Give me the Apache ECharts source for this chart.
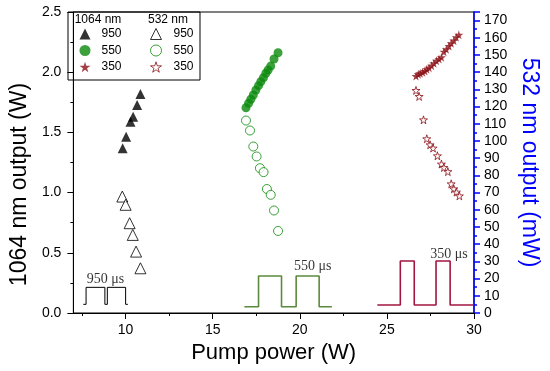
<!DOCTYPE html>
<html>
<head>
<meta charset="utf-8">
<script src="https://cdn.jsdelivr.net/npm/echarts@6/dist/echarts.min.js"></script>
<style>
html,body{margin:0;padding:0;background:#fff;}
#chart{width:550px;height:371px;}
</style>
</head>
<body>
<div id="chart"></div>
<script>
// ---- data ----
const xTickValues = [10, 15, 20, 25, 30];
const xMinorValues = [7.5, 12.5, 17.5, 22.5, 27.5];

// 950 us pulse width
const pump1064_950 = [9.83, 10.03, 10.28, 10.43, 10.66, 10.85];
const out1064_950  = [1.368, 1.464, 1.589, 1.630, 1.728, 1.819];
const pump532_950  = [9.81, 10.00, 10.23, 10.41, 10.60, 10.85];
const out532_950   = [67.7, 62.9, 52.2, 45.4, 35.7, 26.0];

// 550 us pulse width
const pump1064_550 = [16.91, 17.06, 17.19, 17.33, 17.48, 17.63, 17.76, 17.91, 18.05, 18.18, 18.33, 18.52, 18.75];
const out1064_550  = [1.705, 1.742, 1.775, 1.811, 1.852, 1.888, 1.921, 1.954, 1.991, 2.018, 2.051, 2.110, 2.162];
const pump532_550  = [16.91, 17.14, 17.33, 17.52, 17.71, 17.92, 18.11, 18.33, 18.52, 18.75];
const out532_550   = [111.9, 106.1, 96.8, 91.0, 84.2, 81.9, 72.1, 68.7, 59.6, 47.7];

// 350 us pulse width
const pump1064_350 = [26.67, 26.80, 26.91, 27.05, 27.18, 27.29, 27.42, 27.56, 27.70, 27.84, 27.99, 28.13, 28.27, 28.41, 28.56, 28.69, 28.84, 28.98, 29.13];
const out1064_350  = [1.968, 1.983, 1.991, 1.999, 2.010, 2.024, 2.037, 2.054, 2.074, 2.095, 2.110, 2.124, 2.170, 2.190, 2.218, 2.240, 2.262, 2.290, 2.311];
const pump532_350  = [26.67, 26.85, 27.10, 27.29, 27.48, 27.65, 27.90, 28.13, 28.27, 28.50, 28.69, 28.84, 28.99, 29.16];
const out532_350   = [129.4, 125.9, 112.3, 101.3, 97.8, 95.9, 91.4, 86.6, 84.6, 82.2, 75.1, 72.2, 70.3, 68.1];

// pulse sketches (pump-power x, left-axis y): edges and [low, high] levels
const pulse950Edges = [7.57, 7.73, 8.81, 8.95, 10.0, 10.13];
const pulse950Levels = [0.072, 0.213];
const pulse550Edges = [16.82, 17.63, 18.95, 19.79, 21.11, 21.84];
const pulse550Levels = [0.052, 0.307];
const pulse350Edges = [24.45, 25.77, 26.57, 27.82, 28.63, 29.98];
const pulse350Levels = [0.066, 0.432];

const pulseLabels = ['950 μs', '550 μs', '350 μs'];
const pulseLabelX = [8.85, 20.74, 28.56];
const pulseLabelY = [0.28, 0.385, 0.49];

const legendHeaders = ['1064 nm', '532 nm'];
const legendWidths = ['950', '550', '350'];

// ---- helpers ----
function zip(xs, ys) { return xs.map((x, i) => [x, ys[i]]); }
function pulsePath(edges, levels) {
  const lo = levels[0], hi = levels[1];
  const pts = [[edges[0], lo]];
  for (let i = 1; i < edges.length - 1; i++) {
    const up = (i % 2 === 1);
    pts.push([edges[i], up ? lo : hi]);
    pts.push([edges[i], up ? hi : lo]);
  }
  pts.push([edges[edges.length - 1], lo]);
  return pts;
}

const STAR = 'path://M50,0 L61,35 L98,35 L68,57 L79,91 L50,70 L21,91 L32,57 L2,35 L39,35 Z';
const GREEN = '#0b8a0b';
const RED = '#8b1016';
const FONT = 'Liberation Sans, Arial, sans-serif';

const chart = echarts.init(document.getElementById('chart'), null, {renderer: 'canvas'});

function pulseSeries(edges, levels, color, width) {
  return {
    type: 'line', xAxisIndex: 0, yAxisIndex: 0, data: pulsePath(edges, levels),
    showSymbol: false, symbol: 'none', silent: true, animation: false,
    lineStyle: {color: color, width: width}, z: 1
  };
}

function legendOpt(left, pad, names) {
  return {
    left: left, top: 28, orient: 'vertical', itemWidth: 11, itemHeight: 11, itemGap: 4.5,
    selectedMode: false, padding: 0,
    itemStyle: {borderWidth: 1},
    textStyle: {fontFamily: FONT, fontSize: 12, color: '#000', lineHeight: 11, padding: [0, 0, 0, pad]},
    formatter: n => n.split('-')[1],
    data: names
  };
}

const option = {
  animation: false,
  backgroundColor: '#fff',
  grid: {left: 68, right: 76, top: 12, bottom: 58, show: true, borderColor: '#000', borderWidth: 1, backgroundColor: 'transparent'},
  xAxis: [
    {
      type: 'value', min: 7, max: 30, position: 'bottom',
      name: 'Pump power (W)', nameLocation: 'middle', nameGap: 29,
      nameTextStyle: {fontFamily: FONT, fontSize: 22, color: '#000'},
      axisLine: {show: true, lineStyle: {color: '#000', width: 1}},
      axisTick: {show: true, inside: false, length: 6, customValues: xTickValues, lineStyle: {color: '#000'}},
      axisLabel: {show: true, customValues: xTickValues, margin: 10, fontFamily: FONT, fontSize: 14, color: '#000'},
      splitLine: {show: false}
    },
    {
      type: 'value', min: 7, max: 30, position: 'bottom',
      axisLine: {show: false},
      axisTick: {show: true, inside: false, length: 3, customValues: xMinorValues, lineStyle: {color: '#000'}},
      axisLabel: {show: false},
      splitLine: {show: false}
    }
  ],
  yAxis: [
    {
      type: 'value', min: 0, max: 2.5, interval: 0.5, position: 'left',
      name: '1064 nm output (W)', nameLocation: 'middle', nameGap: 39, nameRotate: 90,
      nameTextStyle: {fontFamily: FONT, fontSize: 23, color: '#000', padding: [0, 44, 0, 0]},
      axisLine: {show: true, lineStyle: {color: '#000', width: 1}},
      axisTick: {show: true, inside: false, length: 6, lineStyle: {color: '#000'}},
      minorTick: {show: true, splitNumber: 2, length: 3, lineStyle: {color: '#000'}},
      axisLabel: {margin: 12, fontFamily: FONT, fontSize: 14, color: '#000', formatter: v => v.toFixed(1)},
      splitLine: {show: false}
    },
    {
      type: 'value', min: 0, max: 175, interval: 10, position: 'right',
      name: '532 nm output (mW)', nameLocation: 'middle', nameGap: 42, nameRotate: -90,
      nameTextStyle: {fontFamily: FONT, fontSize: 23, color: '#0000ff'},
      axisLine: {show: true, lineStyle: {color: '#0000ff', width: 1.5}},
      axisTick: {show: true, inside: false, length: 6, lineStyle: {color: '#0000ff', width: 1.5}},
      minorTick: {show: true, splitNumber: 2, length: 3, lineStyle: {color: '#0000ff', width: 1.5}},
      axisLabel: {margin: 10, fontFamily: FONT, fontSize: 14, color: '#000', showMaxLabel: false,
        formatter: v => (v % 10 === 0 ? String(v) : '')},
      splitLine: {show: false}
    }
  ],
  legend: [
    legendOpt(79.5, 6, ['1064-950', '1064-550', '1064-350']),
    legendOpt(150, 7, ['532-950', '532-550', '532-350'])
  ],
  graphic: [
    {type: 'rect', shape: {x: 68, y: 12, width: 132, height: 68}, style: {fill: 'none', stroke: '#000', lineWidth: 1}, z: 10, silent: true},
    {type: 'text', x: 98, y: 20, style: {text: legendHeaders[0], font: '12px ' + FONT, fill: '#000', align: 'center', verticalAlign: 'middle'}, z: 10},
    {type: 'text', x: 168, y: 20, style: {text: legendHeaders[1], font: '12px ' + FONT, fill: '#000', align: 'center', verticalAlign: 'middle'}, z: 10}
  ],
  series: [
    pulseSeries(pulse950Edges, pulse950Levels, '#000', 1),
    pulseSeries(pulse550Edges, pulse550Levels, '#5b8a3c', 1.6),
    pulseSeries(pulse350Edges, pulse350Levels, '#a3163f', 1.6),
    {
      type: 'scatter', xAxisIndex: 0, yAxisIndex: 0, silent: true, symbolSize: 0,
      data: pulseLabelX.map((x, i) => ({value: [x, pulseLabelY[i]], label: {formatter: pulseLabels[i]}})),
      label: {show: true, position: 'inside', fontFamily: 'Liberation Serif, Times New Roman, serif', fontSize: 14, color: '#000'}
    },
    {
      name: '1064-' + legendWidths[0], type: 'scatter', xAxisIndex: 0, yAxisIndex: 0,
      data: zip(pump1064_950, out1064_950), symbol: 'triangle', symbolSize: 10,
      itemStyle: {color: '#000'}, z: 3
    },
    {
      name: '1064-' + legendWidths[1], type: 'scatter', xAxisIndex: 0, yAxisIndex: 0,
      data: zip(pump1064_550, out1064_550), symbol: 'circle', symbolSize: 9,
      itemStyle: {color: GREEN}, z: 3
    },
    {
      name: '1064-' + legendWidths[2], type: 'scatter', xAxisIndex: 0, yAxisIndex: 0,
      data: zip(pump1064_350, out1064_350), symbol: STAR, symbolSize: 9,
      itemStyle: {color: RED}, z: 3
    },
    {
      name: '532-' + legendWidths[0], type: 'scatter', xAxisIndex: 0, yAxisIndex: 1,
      data: zip(pump532_950, out532_950), symbol: 'triangle', symbolSize: 11,
      itemStyle: {color: '#fff', borderColor: '#000', borderWidth: 1}, z: 3
    },
    {
      name: '532-' + legendWidths[1], type: 'scatter', xAxisIndex: 0, yAxisIndex: 1,
      data: zip(pump532_550, out532_550), symbol: 'circle', symbolSize: 9,
      itemStyle: {color: '#fff', borderColor: GREEN, borderWidth: 1}, z: 3
    },
    {
      name: '532-' + legendWidths[2], type: 'scatter', xAxisIndex: 0, yAxisIndex: 1,
      data: zip(pump532_350, out532_350), symbol: STAR, symbolSize: 8,
      itemStyle: {color: '#fff', borderColor: RED, borderWidth: 1}, z: 3
    }
  ]
};
chart.setOption(option);
</script>
</body>
</html>
